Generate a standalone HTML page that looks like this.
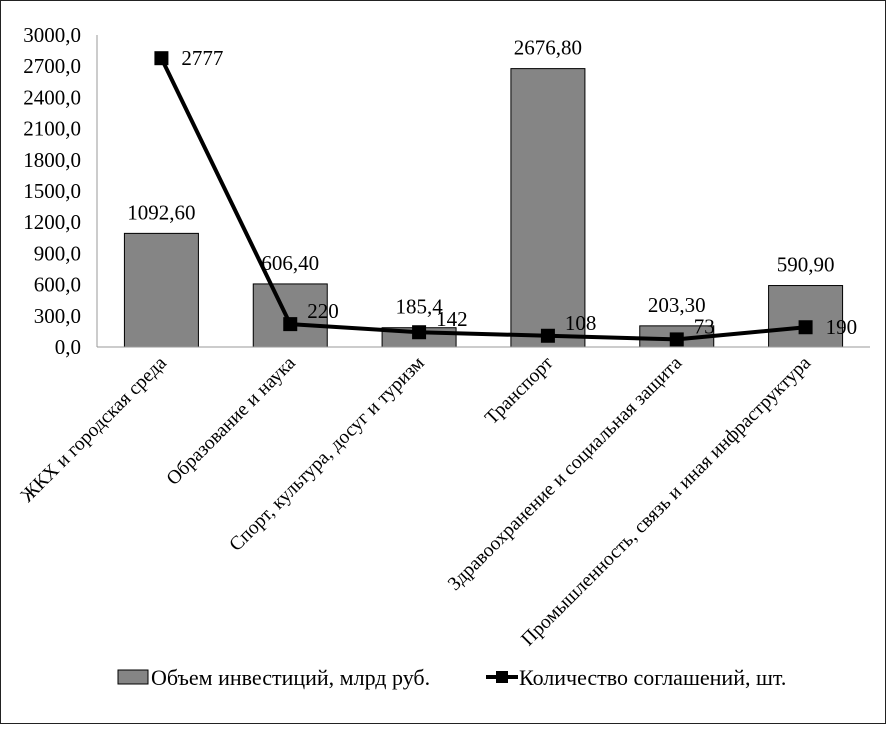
<!DOCTYPE html>
<html><head><meta charset="utf-8"><style>
html,body{margin:0;padding:0;background:#fff}
svg, svg text{font-family:"Liberation Serif","DejaVu Serif Condensed","DejaVu Serif",serif}
</style></head><body>
<svg id="chart" width="887" height="725">
<rect x="0.5" y="0.5" width="885" height="723" fill="#fff" stroke="#222"/>
<g id="plot"></g>
<g>
<rect x="118" y="670" width="30" height="14" fill="#858585" stroke="#000"/>
<text x="151" y="685" font-size="22">Объем инвестиций, млрд руб.</text>
<line x1="486" y1="677" x2="518" y2="677" stroke="#000" stroke-width="4"/>
<rect x="496" y="671" width="12" height="12" fill="#000"/>
<text x="519" y="685" font-size="22">Количество соглашений, шт.</text>
</g>
</svg>
<script>
const categories=["ЖКХ и городская среда","Образование и наука","Спорт, культура, досуг и туризм","Транспорт","Здравоохранение и социальная защита","Промышленность, связь и иная инфраструктура"];
const investments=[1092.6,606.4,185.4,2676.8,203.3,590.9];
const investLabels=["1092,60","606,40","185,4","2676,80","203,30","590,90"];
const agreements=[2777,220,142,108,73,190];
const yTicks=[0,300,600,900,1200,1500,1800,2100,2400,2700,3000];
const yTickLabels=["0,0","300,0","600,0","900,0","1200,0","1500,0","1800,0","2100,0","2400,0","2700,0","3000,0"];

const NS="http://www.w3.org/2000/svg";
const g=document.getElementById('plot');
const X0=97,X1=870,Y0=347,Y1=35,YMAX=3000;
const band=(X1-X0)/categories.length;
const xc=i=>X0+band*(i+0.5);
const y=v=>Y0-(v/YMAX)*(Y0-Y1);
function mk(tag,attrs,text){const e=document.createElementNS(NS,tag);for(const k in attrs)e.setAttribute(k,attrs[k]);if(text!=null)e.textContent=text;g.appendChild(e);return e;}

yTicks.forEach((t,i)=>{
  const e=mk('text',{x:81,y:y(t)+7,'font-size':21,'text-anchor':'end'},yTickLabels[i]);
  
  
});
const ax=mk('line',{x1:X0,y1:Y1,x2:X0,y2:Y0,stroke:'#999','stroke-width':1});



const bw=74;
investments.forEach((v,i)=>{
  const r=mk('rect',{x:xc(i)-bw/2,y:y(v),width:bw,height:Y0-y(v),fill:'#858585',stroke:'#000','stroke-width':1});
  
  
  const l=mk('text',{x:xc(i),y:y(v)-14,'font-size':21,'text-anchor':'middle'},investLabels[i]);
  
  
});
const xa=mk('line',{x1:X0,y1:Y0,x2:X1,y2:Y0,stroke:'#999','stroke-width':1});



categories.forEach((c,i)=>{
  const t=mk('text',{x:xc(i)+6,y:364,'font-size':19.5,'text-anchor':'end',transform:`rotate(-45 ${xc(i)+6} 364)`},c);
  
  
});

const pts=agreements.map((v,i)=>`${xc(i)},${y(v)}`).join(' ');
const pl=mk('polyline',{points:pts,fill:'none',stroke:'#000','stroke-width':4,'stroke-linejoin':'round'});


const last=agreements.length-1;
agreements.forEach((v,i)=>{
  const m=mk('rect',{x:xc(i)-7,y:y(v)-7,width:14,height:14,fill:'#000'});
  
  
  const side=(i===0||i===last);
  const lx=side?xc(i)+20:xc(i)+17;
  const ly=side?y(v)+7:y(v)-6;
  const l=mk('text',{x:lx,y:ly,'font-size':21},String(v));
  
  
});
</script>
</body></html>
